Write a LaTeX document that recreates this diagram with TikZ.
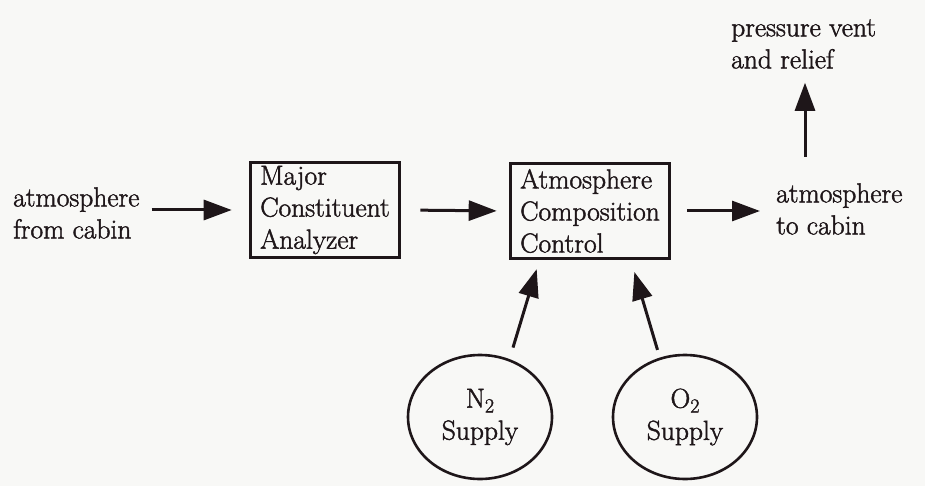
\documentclass[tikz,border=0pt]{standalone}
\usepackage{fontspec}
\usetikzlibrary{arrows.meta,shapes.geometric,calc}
% heavier upright serif for all labels
\newfontfamily\labelfont{Latin Modern Roman}[FakeBold=1.6]
\newcommand{\lowtwo}{\raisebox{-0.4ex}{\fontsize{20}{20}\selectfont 2}}
\definecolor{ink}{HTML}{1E1619}
\definecolor{paper}{HTML}{F8F8F6}
\begin{document}
\begin{tikzpicture}[x=1pt,y=-1pt,
  txt/.style={font=\labelfont\fontsize{27.5}{32}\selectfont, text=ink, align=left, inner sep=0pt},
  blockbox/.style={txt, draw=ink, line width=3pt, inner xsep=10pt, minimum height=94pt},
  supply/.style={txt, align=center, ellipse, draw=ink, line width=2.6pt,
    minimum width=144pt, minimum height=124pt},
  flow/.style={draw=ink, line width=3pt, -{Triangle[length=28pt,width=20pt]}}]
  % page
  \fill[paper] (0,0) rectangle (925,486);
  \useasboundingbox (0,0) rectangle (925,486);

  % labels and blocks
  \node[txt, anchor=west] (fromcabin) at (13,213) {atmosphere\\from cabin};
  \node[blockbox] (mca) at (325,210) {Major\\Constituent\\Analyzer};
  \node[blockbox] (acc) at (590,211) {Atmosphere\\Composition\\Control};
  \node[txt, anchor=west] (tocabin) at (776,209) {atmosphere\\to cabin};
  \node[txt, anchor=west] (vent) at (731,44) {pressure vent\\and relief};
  \node[supply] (n2) at (480,417) {N\lowtwo\\Supply};
  \node[supply] (o2) at (685,417) {O\lowtwo\\Supply};
  \coordinate (ventbase) at (805,157);

  % flow arrows
  \draw[flow, shorten >=17pt] ($(fromcabin.east |- mca.west)+(12,0)$) -- (mca.west);
  \draw[flow, shorten <=19pt, shorten >=12pt] (mca.east) -- (acc.west);
  \draw[flow, shorten <=16pt, shorten >=16pt] (acc.east) -- (acc.east -| tocabin.west);
  \draw[flow, shorten >=14pt] (ventbase) -- (ventbase |- vent.south);
  \draw[flow, shorten <=12pt, shorten >=10pt] (n2.63) -- ($(acc.south west)!0.19!(acc.south east)$);
  \draw[flow, shorten <=8pt, shorten >=13pt] (o2.113) -- ($(acc.south west)!0.75!(acc.south east)$);
\end{tikzpicture}
\end{document}
